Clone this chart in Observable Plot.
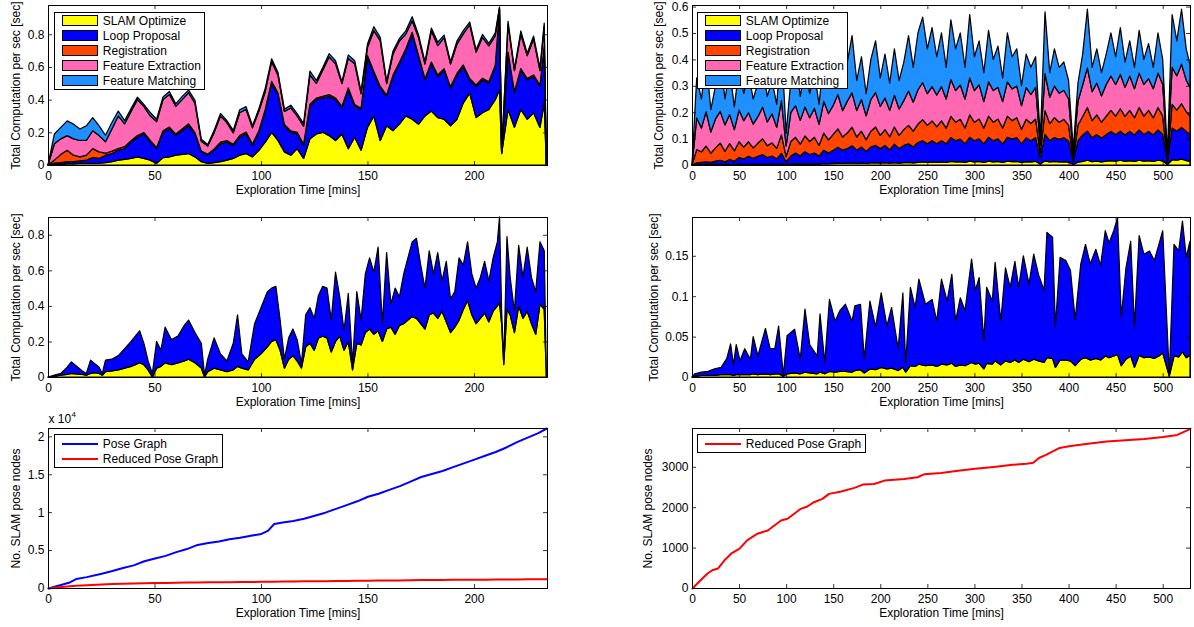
<!DOCTYPE html>
<html>
<head>
<meta charset="utf-8">
<script src="https://cdn.jsdelivr.net/npm/d3@7"></script>
<script src="https://cdn.jsdelivr.net/npm/@observablehq/plot@0.6"></script>
<style>
  html, body { margin: 0; padding: 0; background: #fff; }
  #root { position: relative; width: 1194px; height: 627px; overflow: hidden; background: #fff;
          font-family: "Liberation Sans", Arial, Helvetica, sans-serif; }
  .lg-box { position: absolute; border: 1px solid #000; background: #fff; box-sizing: border-box; }
  .lg-sw { position: absolute; box-sizing: border-box; }
  .lg-tx { position: absolute; font-size: 12px; line-height: 14px; white-space: nowrap; color: #000; }
</style>
</head>
<body>
<div id="root"></div>
<script>
// ---------- series / labels ----------
const seriesNames = ["SLAM Optimize", "Loop Proposal", "Registration", "Feature Extraction", "Feature Matching"];
const seriesColors = ["#ffff00", "#0000ff", "#ff4500", "#ff69b4", "#1e90ff"];
const xLabel = "Exploration Time [mins]";
const yLabelComp = "Total Computation per sec [sec]";
const yLabelNodes = "No. SLAM pose nodes";
const poseNames = ["Pose Graph", "Reduced Pose Graph"];
const poseColors = ["#0000ff", "#ff0000"];

// ---------- ticks ----------
const xTicksLeft = [0, 50, 100, 150, 200];
const xTicksRight = [0, 50, 100, 150, 200, 250, 300, 350, 400, 450, 500];
const yTicksA = [0, 0.2, 0.4, 0.6, 0.8];
const yTicksB = [0, 0.1, 0.2, 0.3, 0.4, 0.5, 0.6];
const yTicksC = [0, 0.2, 0.4, 0.6, 0.8];
const yTicksD = [0, 0.05, 0.1, 0.15];
const yTicksE = [0, 5000, 10000, 15000, 20000];
const yTicksF = [0, 1000, 2000, 3000];

// ---------- panel A (top-left): per-layer computation [sec] ----------
const aTime = [0,3,6,9,12,15,18,21,24,27,30,33,36,39,42,45,48,51,54,57,60,63,66,69,72,75,78,81,84,87,90,93,96,99,102,105,108,111,114,117,120,123,126,129,132,135,138,141,144,147,150,153,156,159,162,165,168,171,174,177,180,183,186,189,192,195,198,201,204,207,210,212,213,216,219,222,225,228,231,233,234];
const aOptimize = [0,.005,.006,.008,.008,.01,.01,.01,.012,.015, .02,.03,.035,.04,.05,.04,.03,.01,.045,.05, .06,.065,.07,.05,.02,.01,.015,.02,.03,.04, .06,.07,.05,.09,.14,.2,.15,.08,.06,.1, .04,.16,.19,.2,.18,.15,.19,.1,.17,.09, .23,.3,.15,.24,.21,.25,.3,.28,.25,.3, .33,.29,.28,.24,.28,.38,.44,.29,.32,.34, .4,.46,.07,.34,.23,.34,.28,.32,.23,.38, 0];
const aLoop = [0,.007,.009,.012,.012,.015,.02,.035,.028,.045, .05,.06,.065,.1,.12,.15,.11,.09,.155,.17, .12,.145,.17,.14,.06,.05,.075,.11,.11,.08, .11,.12,.07,.11,.19,.3,.28,.16,.14,.09, .08,.2,.21,.21,.24,.25,.16,.36,.19,.25, .43,.26,.32,.18,.33,.37,.4,.52,.41,.22, .29,.25,.3,.23,.27,.22,.08,.19,.2,.16, .2,.49,.005,.34,.21,.24,.24,.22,.25,.34, 0];
const aRegistration = [0,.018,.05,.07,.04,.025,.03,.055,.04,.012, .015,.01,.012,.008,.01,.009,.011,.006,.01,.012, .009,.01,.012,.008,.005,.006,.008,.01,.009,.007, .01,.011,.008,.009,.01,.012,.01,.008,.009,.01, .007,.012,.009,.01,.011,.01,.008,.012,.01,.007, .01,.012,.011,.008,.01,.009,.011,.012,.01,.008, .01,.011,.009,.008,.01,.012,.009,.01,.011,.009, .01,.005,.002,.011,.008,.01,.009,.011,.008,.01, 0];
const aExtraction = [0,.1,.095,.09,.1,.1,.09,.11,.1,.07, .135,.2,.14,.18,.22,.16,.15,.16,.19,.2, .17,.18,.19,.18,.06,.05,.1,.16,.11,.07, .14,.14,.1,.12,.11,.12,.11,.08,.14,.1, .11,.18,.09,.16,.23,.21,.14,.18,.25,.09, .05,.25,.28,.07,.13,.13,.09,.07,.11,.09, .19,.18,.19,.14,.18,.19,.33,.2,.25,.22, .18,.005,.002,.17,.13,.21,.14,.22,.09,.12, 0];
const aMatching = [0,.06,.07,.09,.09,.07,.09,.08,.06,.04, .04,.03,.02,.018,.015,.012,.02,.014,.016,.018, .015,.02,.016,.018,.012,.01,.014,.016,.012,.015, .018,.016,.012,.015,.02,.018,.016,.014,.017,.015, .016,.022,.018,.016,.02,.018,.012,.022,.018,.014, .02,.024,.02,.016,.018,.015,.02,.025,.016,.014, .018,.02,.016,.014,.018,.02,.016,.014,.018,.016, .018,.008,.001,.018,.012,.02,.015,.018,.016,.018, 0];

// ---------- panel B (top-right): per-layer computation [sec] ----------
const bTime = [0,5,10,15,20,25,30,35,40,45,50,55,60,65,70,75,80,85,90,95,100,105,110,115,120,125,130,135,140,145,150,155,160,165,170,175,180,185,190,195,200,205,210,215,220,225,230,235,240,245,250,255,260,265,270,275,280,285,290,295,300,305,310,315,320,325,330,335,340,345,350,355,360,365,370,375,380,385,390,395,400,405,410,415,420,425,430,435,440,445,450,455,460,465,470,475,480,485,490,495,500,505,510,515,520,525,529];
const bOptimize = [0,.002,.002,.002,.002,.003,.003,.002,.003,.002, .003,.003,.003,.003,.003,.004,.003,.004,.003,.004, .002,.004,.005,.004,.005,.004,.005,.004,.006,.005, .006,.007,.006,.007,.008,.006,.008,.006,.008,.009, .007,.009,.007,.009,.007,.009,.01,.008,.01,.012, .01,.012,.01,.012,.01,.014,.012,.013,.01,.015, .012,.014,.01,.015,.012,.014,.01,.015,.013,.014, .01,.013,.012,.014,.004,.016,.012,.014,.012,.013, .011,.003,.011,.014,.018,.013,.015,.012,.015,.017, .015,.018,.014,.017,.014,.018,.015,.017,.014,.018, .016,.002,.02,.018,.022,.017,.015];
const bLoop = [0,.006,.008,.01,.008,.012,.015,.01,.018,.012, .025,.02,.03,.022,.03,.035,.025,.03,.02,.04, .01,.03,.04,.03,.045,.035,.04,.03,.05,.04, .05,.06,.05,.055,.065,.05,.06,.045,.06,.065, .055,.065,.05,.07,.055,.065,.07,.06,.075,.08, .07,.08,.07,.08,.07,.09,.08,.085,.07,.09, .08,.085,.07,.09,.08,.085,.07,.09,.085,.09, .07,.09,.08,.09,.02,.1,.08,.09,.085,.09, .08,.01,.08,.1,.11,.09,.1,.09,.1,.11, .1,.11,.1,.11,.1,.115,.1,.11,.1,.115, .1,.008,.12,.11,.12,.11,.1];
const bRegistration = [0,.05,.04,.06,.035,.05,.065,.04,.06,.04, .06,.045,.055,.04,.05,.06,.045,.05,.04,.07, .02,.055,.06,.045,.06,.05,.06,.04,.065,.05, .06,.07,.05,.06,.07,.05,.06,.045,.06,.07, .05,.06,.05,.065,.05,.06,.07,.06,.07,.08, .07,.075,.065,.075,.06,.08,.07,.075,.06,.085, .07,.075,.06,.08,.07,.075,.06,.08,.07,.075, .055,.07,.065,.07,.02,.09,.065,.075,.065,.07, .06,.01,.06,.07,.09,.065,.075,.06,.07,.08, .07,.085,.07,.08,.065,.085,.07,.08,.065,.085, .07,.008,.09,.08,.09,.075,.07];
const bExtraction = [0,.12,.09,.13,.08,.11,.12,.1,.11,.08, .12,.1,.11,.09,.1,.12,.09,.11,.08,.13, .04,.11,.12,.09,.11,.09,.11,.08,.12,.1, .11,.13,.1,.12,.13,.1,.12,.09,.12,.13, .11,.12,.1,.12,.1,.11,.13,.11,.13,.14, .12,.13,.12,.13,.11,.14,.12,.13,.11,.14, .12,.13,.1,.13,.12,.12,.1,.13,.12,.12, .09,.12,.11,.12,.03,.14,.1,.12,.11,.11, .1,.02,.09,.12,.15,.11,.12,.1,.12,.13, .12,.13,.11,.13,.11,.13,.12,.12,.11,.13, .12,.012,.14,.13,.15,.12,.11];
const bMatching = [0,.152,.11,.198,.085,.125,.207,.098,.169,.086, .162,.102,.152,.095,.127,.151,.097,.126,.087,.216, .048,.121,.175,.091,.15,.091,.135,.076,.169,.105, .144,.193,.104,.148,.217,.114,.162,.084,.152,.196, .108,.166,.103,.176,.108,.146,.21,.132,.215,.248, .17,.223,.145,.203,.12,.226,.158,.197,.12,.24, .128,.166,.11,.195,.118,.156,.09,.185,.122,.141, .075,.127,.103,.116,.026,.234,.093,.141,.098,.107, .069,.017,.069,.116,.222,.092,.13,.088,.115,.163, .105,.177,.096,.133,.081,.162,.095,.133,.081,.152, .094,.01,.2,.132,.208,.118,.085];

// ---------- panel C (middle-left): optimize + loop proposal [sec] ----------
const cTime = [0,3,6,9,11,13,16,18,20,22,24,25.5,27,30,33,36,39,41,43,45,47,49,51,53,55,58,61,64,66,69,72,73.5,75,78,81,84,87,89,91,94,97,100,103,105,107,109,111,113,115,117,119,121,123,125,127,129,131,133,135,137,139,141,143,145,147,149,151,153,155,157,159,161,163,165,167,169,171,173,175,177,179,181,183,185,187,189,191,193,195,197,199,201,203,205,207,209,211,212,213,214,215.5,217,219,221,223,225,227,229,231,233,234];
const cOptimize = [0,.005,.01,.015,.02,.018,.015,.01,.02,.025, .02,.01,.03,.035,.04,.05,.06,.07,.08,.07, .04,0,.05,.06,.08,.07,.08,.09,.1,.08, .05,0,.03,.05,.04,.03,.04,.06,.05,.04, .1,.13,.17,.2,.21,.15,.05,.1,.12,.09, .05,.17,.19,.15,.22,.23,.22,.14,.2,.23, .15,.2,.04,.19,.18,.25,.27,.24,.26,.2, .27,.28,.24,.29,.3,.32,.34,.33,.3,.27, .35,.36,.33,.37,.31,.25,.28,.32,.38,.43, .35,.3,.33,.36,.31,.37,.4,.42,.3,.07, .38,.35,.25,.4,.33,.37,.3,.24,.41,.38, 0];
const cLoop = [0,.005,.01,.04,.065,.047,.02,.01,.075,.05, .035,.01,.065,.065,.08,.11,.14,.16,.18,.12, .05,.02,.15,.09,.2,.14,.15,.2,.22,.17, .14,.01,.07,.17,.09,.06,.15,.29,.08,.045, .2,.26,.31,.3,.3,.17,.05,.12,.15,.12, .025,.18,.2,.18,.24,.28,.28,.18,.39,.22, .11,.27,.035,.29,.14,.33,.4,.35,.47,.1, .43,.13,.26,.16,.28,.35,.42,.45,.33,.23, .36,.22,.37,.17,.34,.19,.2,.35,.25,.33, .23,.2,.23,.29,.23,.3,.36,.48,.07,.005, .41,.21,.12,.34,.23,.36,.26,.24,.35,.33, 0];

// ---------- panel D (middle-right): optimize + loop proposal [sec] ----------
const dTime = [0,3,10,17,24,31,37,41,44,47,51,56,62,65,70,78,83,88,92,97,101,109,115,120,125,133,136,141,146,152,157,163,170,173,179,183,189,195,201,207,212,219,224,227,232,237,241,248,255,260,265,271,276,280,285,290,297,301,305,310,313,319,322,328,333,338,343,347,352,358,363,368,374,377,383,386,391,397,402,407,413,418,423,429,434,439,443,448,452,456,461,466,470,475,480,486,491,496,500,507,512,517,521,525,529];
const dOptimize = [0,.001,.002,.002,.002,.003,.003,.003,.002,.003, .003,.003,.003,.004,.003,.004,.003,.004,.004,.001, .004,.005,.004,.006,.005,.004,.006,.004,.007,.006, .007,.007,.006,.008,.009,.005,.01,.009,.012,.01, .011,.008,.012,.006,.014,.013,.016,.014,.015,.013, .016,.015,.017,.013,.015,.014,.018,.016,.017,.01, .017,.016,.02,.015,.02,.018,.021,.018,.022,.019, .022,.02,.018,.024,.023,.012,.021,.021,.02,.014, .022,.024,.021,.023,.021,.026,.024,.026,.028,.014, .022,.026,.012,.027,.024,.025,.023,.026,.03,.001, .026,.025,.031,.024,.027];
const dLoop = [0,.003,.004,.005,.008,.009,.02,.038,.013,.037, .017,.032,.019,.046,.023,.056,.032,.031,.059,.001, .047,.054,.018,.078,.035,.022,.072,.014,.089,.063, .075,.083,.063,.08,.081,.017,.084,.053,.092,.053, .075,.027,.092,.01,.097,.073,.105,.076,.081,.056, .105,.079,.11,.056,.083,.068,.128,.091,.106,.035, .094,.078,.122,.054,.115,.093,.122,.093,.128,.096, .13,.107,.089,.155,.15,.05,.127,.123,.112,.057, .118,.14,.119,.135,.117,.155,.142,.155,.169,.06, .113,.142,.05,.148,.128,.131,.121,.138,.151,.001, .138,.131,.162,.124,.141];

// ---------- panel E (bottom-left): pose nodes ----------
const eTime = [0,5,10,13,18,25,30,35,40,45,50,55,60,65,70,75,80,85,90,95,100,103,106,110,115,120,125,130,135,140,145,150,155,160,165,170,175,180,185,190,195,200,205,210,215,220,225,230,234];
const ePoseGraph = [0,400,800,1250,1500,1950,2300,2700,3050,3600,3950,4300,4800,5200,5750,6000,6200,6500,6700,6950,7200,7600,8500,8700,8900,9200,9600,10000,10500,11000,11500,12100,12500,13000,13500,14100,14700,15100,15500,16000,16500,17000,17500,18000,18600,19300,19900,20500,21100];
const eReduced = [0,150,300,350,420,530,580,620,650,690,720,740,770,790,800,810,830,840,850,860,880,890,900,910,920,940,950,970,990,1000,1020,1030,1040,1060,1070,1090,1110,1120,1130,1140,1150,1160,1170,1180,1190,1200,1210,1220,1230];

// ---------- panel F (bottom-right): reduced pose nodes ----------
const fTime = [0,8,16,21,27,34,41,50,58,69,80,94,101,115,122,129,138,145,158,172,181,193,204,225,239,246,264,280,300,320,340,355,362,368,375,390,400,420,440,460,480,500,515,529];
const fReduced = [0,190,370,452,493,698,862,986,1192,1356,1437,1683,1725,1972,2030,2136,2219,2342,2400,2490,2572,2588,2670,2712,2753,2826,2860,2910,2965,3010,3060,3090,3110,3230,3300,3480,3520,3580,3640,3670,3700,3750,3800,3950];

// ---------- helpers ----------
const FONT = '"Liberation Sans", Arial, Helvetica, sans-serif';
const root = document.getElementById("root");

function stackRows(time, layers) {
  const rows = [];
  layers.forEach(([name, vals]) => vals.forEach((v, i) => rows.push({t: time[i], v, s: name})));
  return rows;
}
function lineRows(time, vals) { return vals.map((v, i) => ({t: time[i], v})); }

function stackedArea(rows) {
  return Plot.areaY(rows, {x: "t", y: "v", z: "s", fill: "s", order: seriesNames,
    stroke: "black", strokeWidth: 1.25, strokeLinejoin: "round"});
}

function makePanel(cfg) {
  const mL = 60, mR = 4, mT = 20, mB = 40;
  const W = cfg.x1 - cfg.x0, H = cfg.y1 - cfg.y0;
  const svg = Plot.plot({
    width: W + mL + mR, height: H + mT + mB,
    marginLeft: mL, marginRight: mR, marginTop: mT, marginBottom: mB,
    x: {domain: cfg.xDomain},
    y: {domain: cfg.yDomain},
    color: {domain: seriesNames, range: seriesColors},
    style: {fontFamily: FONT, fontSize: "12px", background: "transparent", overflow: "visible", color: "black"},
    marks: [
      ...cfg.marks,
      Plot.frame({stroke: "black", strokeWidth: 1}),
      Plot.tickX(cfg.xTicks, {x: d => d, insetTop: H - 4, stroke: "black", strokeWidth: 0.8}),
      Plot.tickX(cfg.xTicks, {x: d => d, insetBottom: H - 4, stroke: "black", strokeWidth: 0.8}),
      Plot.tickY(cfg.yTicks, {y: d => d, insetLeft: W - 4, stroke: "black", strokeWidth: 0.8}),
      Plot.tickY(cfg.yTicks, {y: d => d, insetRight: W - 4, stroke: "black", strokeWidth: 0.8}),
      Plot.axisX({ticks: cfg.xTicks, tickSize: 0, tickPadding: 6, tickFormat: d => String(d), label: null}),
      Plot.axisY({ticks: cfg.yTicks, tickSize: 0, tickPadding: 4, tickFormat: cfg.yFormat || (d => String(d)), label: null}),
      Plot.text([xLabel], {frameAnchor: "bottom", dy: 25, text: d => d, fontSize: 12,
        textAnchor: "middle", lineAnchor: "middle"}),
      Plot.text([cfg.yLabel], {frameAnchor: "left", dx: cfg.yDx, rotate: -90, text: d => d, fontSize: 12,
        textAnchor: "middle", lineAnchor: "middle"}),
      ...(cfg.extra || [])
    ]
  });
  svg.style.position = "absolute";
  svg.style.left = (cfg.x0 - mL) + "px";
  svg.style.top = (cfg.y0 - mT) + "px";
  svg.style.maxWidth = "none";
  root.appendChild(svg);
}

function addLegend(box, items, firstRow) {
  const b = document.createElement("div");
  b.className = "lg-box";
  Object.assign(b.style, {left: box.left + "px", top: box.top + "px", width: box.width + "px", height: box.height + "px"});
  root.appendChild(b);
  items.forEach((it, i) => {
    const cy = box.top + firstRow + 15 * i;
    const sw = document.createElement("div");
    sw.className = "lg-sw";
    if (it.kind === "area") {
      Object.assign(sw.style, {left: (box.left + 7.5) + "px", top: (cy - 5.5) + "px", width: "36.5px", height: "11px",
        background: it.color, border: "1px solid #000"});
    } else {
      Object.assign(sw.style, {left: (box.left + 7.5) + "px", top: (cy - 1) + "px", width: "36.5px", height: "2.2px",
        background: it.color});
    }
    root.appendChild(sw);
    const tx = document.createElement("div");
    tx.className = "lg-tx";
    tx.textContent = it.label;
    Object.assign(tx.style, {left: (box.left + 48.5) + "px", top: (cy - 7) + "px"});
    root.appendChild(tx);
  });
}

// ---------- panels ----------
makePanel({
  x0: 48, x1: 547, y0: 5, y1: 165, xDomain: [0, 234.3], yDomain: [0, 0.979],
  xTicks: xTicksLeft, yTicks: yTicksA, yLabel: yLabelComp, yDx: -32.5,
  marks: [stackedArea(stackRows(aTime, [[seriesNames[0], aOptimize], [seriesNames[1], aLoop], [seriesNames[2], aRegistration], [seriesNames[3], aExtraction], [seriesNames[4], aMatching]]))]
});
makePanel({
  x0: 691.7, x1: 1189.7, y0: 5, y1: 165, xDomain: [0, 529], yDomain: [0, 0.606],
  xTicks: xTicksRight, yTicks: yTicksB, yLabel: yLabelComp, yDx: -33,
  marks: [stackedArea(stackRows(bTime, [[seriesNames[0], bOptimize], [seriesNames[1], bLoop], [seriesNames[2], bRegistration], [seriesNames[3], bExtraction], [seriesNames[4], bMatching]]))]
});
makePanel({
  x0: 48, x1: 547, y0: 216.7, y1: 376.7, xDomain: [0, 234.3], yDomain: [0, 0.9],
  xTicks: xTicksLeft, yTicks: yTicksC, yLabel: yLabelComp, yDx: -32,
  marks: [stackedArea(stackRows(cTime, [[seriesNames[0], cOptimize], [seriesNames[1], cLoop]]))]
});
makePanel({
  x0: 691.7, x1: 1189.7, y0: 216.5, y1: 376.5, xDomain: [0, 529], yDomain: [0, 0.198],
  xTicks: xTicksRight, yTicks: yTicksD, yLabel: yLabelComp, yDx: -38,
  marks: [stackedArea(stackRows(dTime, [[seriesNames[0], dOptimize], [seriesNames[1], dLoop]]))]
});
makePanel({
  x0: 48, x1: 547, y0: 428.3, y1: 588.3, xDomain: [0, 234.3], yDomain: [0, 21100],
  xTicks: xTicksLeft, yTicks: yTicksE, yFormat: d => String(d / 10000), yLabel: yLabelNodes, yDx: -32,
  marks: [
    Plot.lineY(lineRows(eTime, ePoseGraph), {x: "t", y: "v", stroke: poseColors[0], strokeWidth: 2}),
    Plot.lineY(lineRows(eTime, eReduced), {x: "t", y: "v", stroke: poseColors[1], strokeWidth: 2})
  ],
  extra: [
    Plot.text(["x 10"], {frameAnchor: "top-left", textAnchor: "start", lineAnchor: "middle", dy: -9, text: d => d, fontSize: 12}),
    Plot.text(["4"], {frameAnchor: "top-left", textAnchor: "start", lineAnchor: "middle", dx: 23, dy: -14, text: d => d, fontSize: 8})
  ]
});
makePanel({
  x0: 691.7, x1: 1189.7, y0: 428.3, y1: 588.3, xDomain: [0, 529], yDomain: [0, 3960],
  xTicks: xTicksRight, yTicks: yTicksF, yLabel: yLabelNodes, yDx: -44,
  marks: [Plot.lineY(lineRows(fTime, fReduced), {x: "t", y: "v", stroke: poseColors[1], strokeWidth: 2})]
});

// ---------- legends ----------
const areaItems = seriesNames.map((n, i) => ({label: n, color: seriesColors[i], kind: "area"}));
addLegend({left: 54.3, top: 11.7, width: 151, height: 78.3}, areaItems, 9.1);
addLegend({left: 697.3, top: 11.7, width: 151, height: 77.6}, areaItems, 9.1);
addLegend({left: 54.3, top: 434, width: 168.5, height: 34.3},
  poseNames.map((n, i) => ({label: n, color: poseColors[i], kind: "line"})), 10);
addLegend({left: 697.3, top: 434, width: 168.7, height: 19.3},
  [{label: poseNames[1], color: poseColors[1], kind: "line"}], 9.5);
</script>
</body>
</html>
